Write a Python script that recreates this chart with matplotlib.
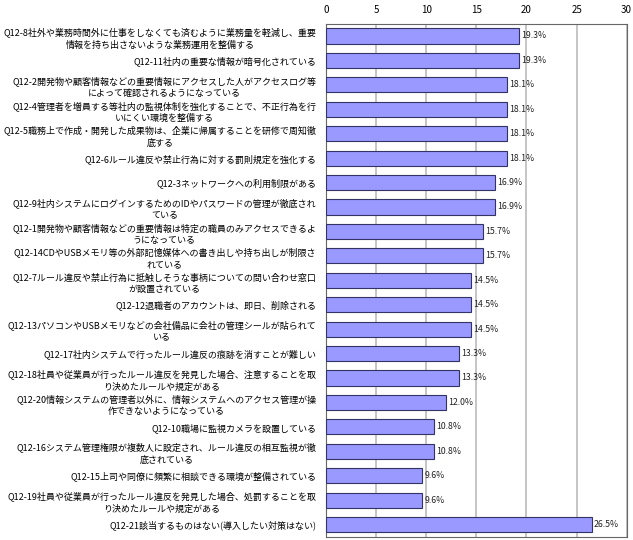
import matplotlib
matplotlib.use("Agg")
import matplotlib.pyplot as plt
import numpy as np

plt.rcParams["font.family"] = ["Noto Sans CJK JP", "DejaVu Sans"]

labels = [
    "Q12-8社外や業務時間外に仕事をしなくても済むように業務量を軽減し、重要\n情報を持ち出さないような業務運用を整備する",
    "Q12-11社内の重要な情報が暗号化されている",
    "Q12-2開発物や顧客情報などの重要情報にアクセスした人がアクセスログ等\nによって確認されるようになっている",
    "Q12-4管理者を増員する等社内の監視体制を強化することで、不正行為を行\nいにくい環境を整備する",
    "Q12-5職務上で作成・開発した成果物は、企業に帰属することを研修で周知徹\n底する",
    "Q12-6ルール違反や禁止行為に対する罰則規定を強化する",
    "Q12-3ネットワークへの利用制限がある",
    "Q12-9社内システムにログインするためのIDやパスワードの管理が徹底され\nている",
    "Q12-1開発物や顧客情報などの重要情報は特定の職員のみアクセスできるよ\nうになっている",
    "Q12-14CDやUSBメモリ等の外部記憶媒体への書き出しや持ち出しが制限さ\nれている",
    "Q12-7ルール違反や禁止行為に抵触しそうな事柄についての問い合わせ窓口\nが設置されている",
    "Q12-12退職者のアカウントは、即日、削除される",
    "Q12-13パソコンやUSBメモリなどの会社備品に会社の管理シールが貼られて\nいる",
    "Q12-17社内システムで行ったルール違反の痕跡を消すことが難しい",
    "Q12-18社員や従業員が行ったルール違反を発見した場合、注意することを取\nり決めたルールや規定がある",
    "Q12-20情報システムの管理者以外に、情報システムへのアクセス管理が操\n作できないようになっている",
    "Q12-10職場に監視カメラを設置している",
    "Q12-16システム管理権限が複数人に設定され、ルール違反の相互監視が徹\n底されている",
    "Q12-15上司や同僚に頻繁に相談できる環境が整備されている",
    "Q12-19社員や従業員が行ったルール違反を発見した場合、処罰することを取\nり決めたルールや規定がある",
    "Q12-21該当するものはない(導入したい対策はない)",
]
values = [19.3, 19.3, 18.1, 18.1, 18.1, 18.1, 16.9, 16.9, 15.7, 15.7,
          14.5, 14.5, 14.5, 13.3, 13.3, 12.0, 10.8, 10.8, 9.6, 9.6, 26.5]

fig = plt.figure(figsize=(6.33, 5.4), dpi=100)
ax = fig.add_axes([0.515, 0.006, 0.475, 0.950])

y = np.arange(len(values))
ax.barh(y, values, height=0.62, color="#9999ff", edgecolor="#333366", linewidth=0.8, zorder=3)

for i, v in enumerate(values):
    ax.text(v + 0.2, i, f"{v:.1f}%", va="center", ha="left", fontsize=6.3, color="#222222", zorder=4)

ax.set_ylim(len(values) - 0.5, -0.5)
ax.set_xlim(0, 30)
ax.set_xticks(np.arange(0, 31, 5))
ax.xaxis.tick_top()
ax.tick_params(axis="x", length=0, labelsize=7, pad=6)
ax.set_yticks(y)
ax.set_yticklabels(labels, fontsize=6.5, multialignment="center", linespacing=1.45)
ax.tick_params(axis="y", length=0, pad=7)
ax.grid(axis="x", color="#bbbbbb", linewidth=1.2, zorder=0)
for s in ax.spines.values():
    s.set_color("#666666")
    s.set_linewidth(0.8)

fig.savefig("out.png", dpi=100)
